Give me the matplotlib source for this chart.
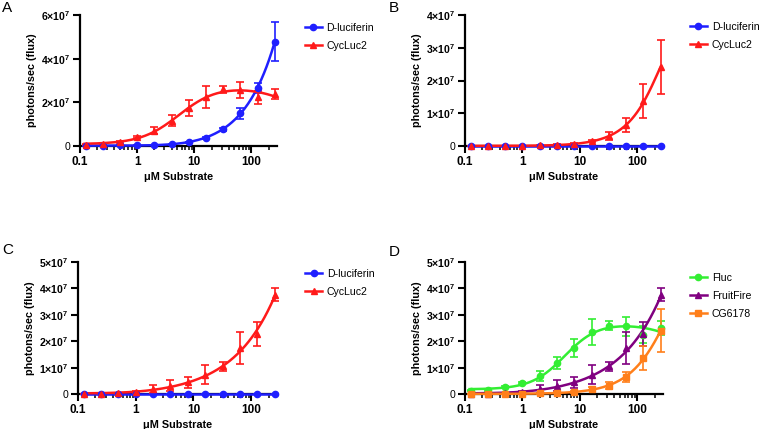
import numpy as np
import matplotlib
matplotlib.use("Agg")
import matplotlib.pyplot as plt
from matplotlib.ticker import FixedLocator, LogLocator, NullFormatter

plt.rcParams['font.family'] = ['Liberation Sans', 'DejaVu Sans']
plt.rcParams['mathtext.fontset'] = 'custom'
plt.rcParams['mathtext.rm'] = 'Liberation Sans:bold'
plt.rcParams['mathtext.bf'] = 'Liberation Sans:bold'
plt.rcParams['mathtext.it'] = 'Liberation Sans:bold'

# ---------------- data (photons/sec, in units of 1e7) ----------------
conc = [0.125, 0.25, 0.5, 1, 2, 4, 8, 16, 32, 64, 128, 256]

A_dluc = [0.02, 0.02, 0.03, 0.03, 0.05, 0.08, 0.17, 0.38, 0.76, 1.50, 2.67, 4.78]
A_dluc_err = [0.01, 0.01, 0.01, 0.01, 0.01, 0.02, 0.03, 0.05, 0.08, 0.25, 0.22, 0.88]
A_cyc = [0.05, 0.10, 0.20, 0.41, 0.70, 1.16, 1.74, 2.24, 2.60, 2.56, 2.23, 2.37]
A_cyc_err = [0.02, 0.03, 0.04, 0.05, 0.17, 0.24, 0.36, 0.50, 0.17, 0.35, 0.30, 0.22]

B_dluc = [0, 0, 0, 0, 0, 0, 0, 0, 0, 0, 0, 0]
B_dluc_err = [0, 0, 0, 0, 0, 0, 0, 0, 0, 0, 0, 0]
B_cyc = [0.0, 0.0, 0.0, 0.01, 0.02, 0.03, 0.06, 0.15, 0.30, 0.64, 1.36, 2.42]
B_cyc_err = [0, 0, 0, 0, 0.01, 0.02, 0.03, 0.04, 0.12, 0.20, 0.52, 0.82]

C_dluc = [0, 0, 0, 0, 0, 0, 0, 0, 0, 0, 0, 0]
C_dluc_err = [0, 0, 0, 0, 0, 0, 0, 0, 0, 0, 0, 0]
C_cyc = [0.0, 0.0, 0.02, 0.06, 0.18, 0.32, 0.44, 0.73, 1.05, 1.74, 2.27, 3.76]
C_cyc_err = [0.01, 0.01, 0.02, 0.04, 0.15, 0.22, 0.20, 0.35, 0.17, 0.60, 0.44, 0.24]

D_fluc = [0.13, 0.16, 0.25, 0.42, 0.67, 1.17, 1.74, 2.34, 2.59, 2.56, 2.25, 2.50]
D_fluc_err = [0.02, 0.03, 0.04, 0.05, 0.19, 0.22, 0.34, 0.50, 0.16, 0.35, 0.33, 0.27]
D_fruit = C_cyc
D_fruit_err = C_cyc_err
D_cg = [0.0, 0.0, 0.0, 0.01, 0.02, 0.04, 0.08, 0.20, 0.32, 0.64, 1.36, 2.40]
D_cg_err = [0, 0, 0, 0, 0.01, 0.02, 0.03, 0.05, 0.12, 0.20, 0.45, 0.82]

x_ticks = [0.1, 1, 10, 100]
x_ticklabels = ["0.1", "1", "10", "100"]

BLUE = "#1f1fff"
RED = "#ff1a1a"
GREEN = "#33ee33"
PURPLE = "#800080"
ORANGE = "#ff7f1a"


def fit_curve(x, y, xs):
    """Least-squares fit of a Hill / substrate-inhibition model (grid search)."""
    x = np.asarray(x, float)
    y = np.asarray(y, float)
    if np.allclose(y, 0):
        return np.zeros_like(xs)
    best = None
    Ks = np.logspace(-1, 4, 70)
    hs = np.linspace(0.6, 2.4, 19)
    Kis = np.concatenate([[np.inf], np.logspace(0, 4, 30)])
    for K in Ks:
        for h in hs:
            for Ki in Kis:
                f = x**h / (K**h + x**h) / (1 + x / Ki)
                M = np.column_stack([np.ones_like(f), f])
                coef, *_ = np.linalg.lstsq(M, y, rcond=None)
                if coef[0] < 0:
                    coef = np.array([0.0, (f @ y) / (f @ f)])
                r = np.sum((M @ coef - y) ** 2)
                if best is None or r < best[0]:
                    best = (r, K, h, Ki, coef)
    _, K, h, Ki, coef = best
    fs = xs**h / (K**h + xs**h) / (1 + xs / Ki)
    return coef[0] + coef[1] * fs


fig = plt.figure(figsize=(7.6, 4.29), dpi=100)
W, H = 760, 429


def make_ax(left, top, right, bottom):
    return fig.add_axes([left / W, 1 - bottom / H, (right - left) / W, (bottom - top) / H])


def style(ax, ymax, ystep):
    ax.set_xscale('log')
    ax.set_xlim(0.1, 280)
    ax.set_ylim(0, ymax)
    for s in ['top', 'right']:
        ax.spines[s].set_visible(False)
    for s in ['left', 'bottom']:
        ax.spines[s].set_linewidth(1.6)
    ax.xaxis.set_major_locator(FixedLocator(x_ticks))
    ax.set_xticklabels(x_ticklabels, fontsize=8.5, fontweight='bold')
    ax.xaxis.set_minor_locator(LogLocator(base=10, subs=np.arange(2, 10)))
    ax.xaxis.set_minor_formatter(NullFormatter())
    yt = np.arange(0, ymax + 1e-9, ystep)
    ax.set_yticks(yt)
    ax.set_yticklabels(["0" if v == 0 else r"$%d{\times}10^{7}$" % v for v in yt], fontsize=7.6)
    ax.tick_params(axis='both', which='major', length=5, width=1.5, pad=2)
    ax.tick_params(axis='x', which='minor', length=3, width=1.1)
    ax.set_xlabel("μM Substrate", fontsize=7.8, fontweight='bold', labelpad=3)
    ax.set_ylabel("photons/sec (flux)", fontsize=7.8, fontweight='bold', labelpad=3)


def series(ax, y, err, color, marker, label, ms=4.5):
    xs = np.logspace(np.log10(0.12), np.log10(256), 300)
    ycur = fit_curve(conc, y, xs)
    ax.errorbar(conc, y, yerr=err, fmt='none', ecolor=color, elinewidth=1.2,
                capsize=3, capthick=1.2, clip_on=False, zorder=3)
    ax.plot(conc, y, linestyle='none', marker=marker, color=color, ms=ms,
            clip_on=False, zorder=4)
    ax.plot(xs, ycur, color=color, lw=1.8, clip_on=False, zorder=3)
    ax.plot([], [], color=color, marker=marker, ms=ms, lw=1.8, label=label)


def legend(ax, x, y):
    ax.legend(loc='upper left', bbox_to_anchor=(x, y), frameon=False, fontsize=7.6,
              handlelength=1.6, handletextpad=0.45, labelspacing=0.75, borderaxespad=0)


# Panel A
axA = make_ax(80, 15, 277, 146)
series(axA, A_dluc, A_dluc_err, BLUE, 'o', 'D-luciferin')
series(axA, A_cyc, A_cyc_err, RED, '^', 'CycLuc2')
style(axA, 6, 2)
legend(axA, 1.12, 0.97)

# Panel B
axB = make_ax(465, 15, 663, 146)
series(axB, B_dluc, B_dluc_err, BLUE, 'o', 'D-luciferin')
series(axB, B_cyc, B_cyc_err, RED, '^', 'CycLuc2')
style(axB, 4, 1)
legend(axB, 1.115, 0.98)

# Panel C
axC = make_ax(78, 262, 277, 394)
series(axC, C_dluc, C_dluc_err, BLUE, 'o', 'D-luciferin')
series(axC, C_cyc, C_cyc_err, RED, '^', 'CycLuc2')
style(axC, 5, 1)
legend(axC, 1.12, 0.98)

# Panel D
axD = make_ax(465, 262, 663, 394)
series(axD, D_fluc, D_fluc_err, GREEN, 'o', 'Fluc')
series(axD, D_fruit, D_fruit_err, PURPLE, '^', 'FruitFire')
series(axD, D_cg, D_cg_err, ORANGE, 's', 'CG6178', ms=4)
style(axD, 5, 1)
legend(axD, 1.115, 0.95)

fig.text(2 / W, 1 - 8 / H, "A", fontsize=11, va='center', ha='left')
fig.text(389 / W, 1 - 8 / H, "B", fontsize=11, va='center', ha='left')
fig.text(2 / W, 1 - 250 / H, "C", fontsize=11, va='center', ha='left')
fig.text(389 / W, 1 - 252 / H, "D", fontsize=11, va='center', ha='left')

fig.savefig("out.png", dpi=100)
